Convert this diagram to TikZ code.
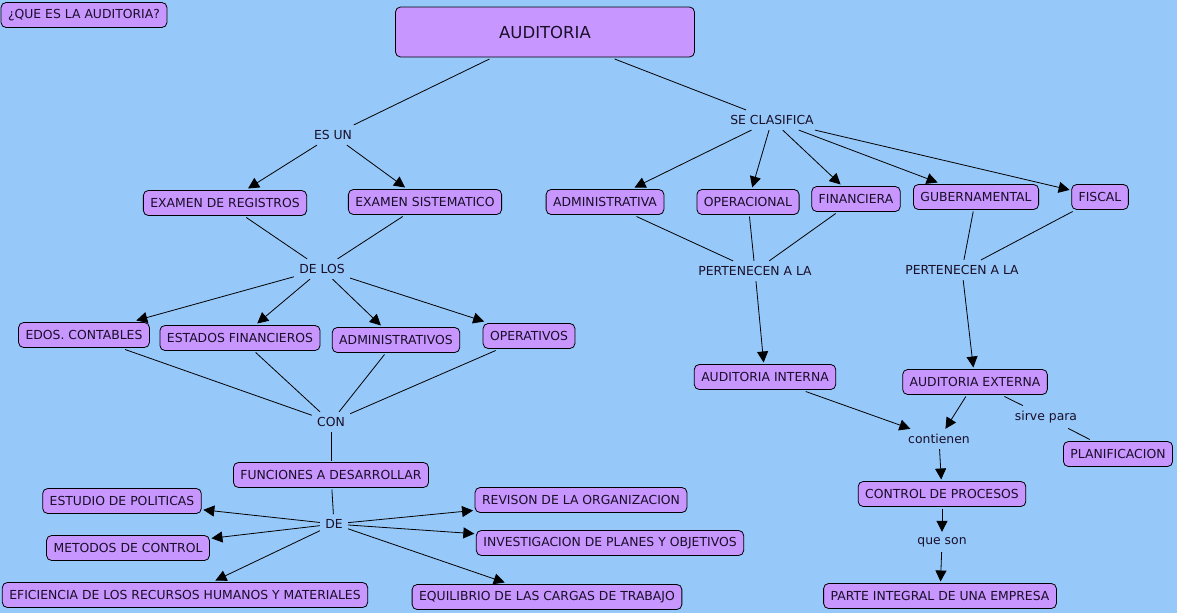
\documentclass[tikz,border=0pt]{standalone}
\usepackage{fontspec}
\setmainfont{DejaVu Sans}
\usetikzlibrary{arrows.meta}
\definecolor{fondo}{RGB}{150,200,250}
\definecolor{lila}{RGB}{200,150,255}
\definecolor{tinta}{RGB}{25,15,40}
\tikzset{
  concepto/.style={draw=black, fill=lila, rounded corners=5pt, inner xsep=7pt, inner ysep=0pt,
    minimum height=25pt, outer sep=2pt, text=tinta, font=\fontsize{12.4}{14}\selectfont},
  enlace/.style={inner sep=5pt, text=tinta, font=\fontsize{12.4}{14}\selectfont},
  flecha/.style={-{Triangle[length=11pt,width=11pt]}},
}
\begin{document}
\begin{tikzpicture}[x=1pt,y=-1pt,line width=0.8pt]
\fill[fondo] (0,0) rectangle (1177,613);
\useasboundingbox (0,0) rectangle (1177,613);

\node[concepto] (que) at (84,15) {¿QUE ES LA AUDITORIA?};
\node[concepto, minimum width=299pt, minimum height=50pt, font=\fontsize{16.5}{18}\selectfont] (aud) at (545,32) {AUDITORIA};

\node[enlace] (esun) at (333,135) {ES UN};
\node[enlace] (secla) at (772,120) {SE CLASIFICA};

\node[concepto] (exreg) at (225,203) {EXAMEN DE REGISTROS};
\node[concepto] (exsis) at (425,202) {EXAMEN SISTEMATICO};
\node[concepto] (admva) at (605,202) {ADMINISTRATIVA};
\node[concepto] (oper) at (748,202) {OPERACIONAL};
\node[concepto] (fin) at (856,199) {FINANCIERA};
\node[concepto] (gub) at (976,197) {GUBERNAMENTAL};
\node[concepto] (fis) at (1100,197) {FISCAL};

\node[enlace] (delos) at (322,269) {DE LOS};
\node[enlace] (pert1) at (755,271) {PERTENECEN A LA};
\node[enlace] (pert2) at (962,270) {PERTENECEN A LA};

\node[concepto] (edos) at (84,335) {EDOS. CONTABLES};
\node[concepto] (estfin) at (240,338) {ESTADOS FINANCIEROS};
\node[concepto] (admvos) at (396,340) {ADMINISTRATIVOS};
\node[concepto] (operat) at (529,336) {OPERATIVOS};
\node[concepto] (audint) at (765,377) {AUDITORIA INTERNA};
\node[concepto] (audext) at (975,382) {AUDITORIA EXTERNA};

\node[enlace] (con) at (331,422) {CON};
\node[enlace] (cont) at (939,439) {contienen};
\node[enlace] (sirve) at (1046,417) {sirve para};
\node[concepto] (plan) at (1118,454) {PLANIFICACION};

\node[concepto] (func) at (331,475) {FUNCIONES A DESARROLLAR};
\node[concepto] (ctl) at (942,494) {CONTROL DE PROCESOS};
\node[enlace] (de) at (334,524) {DE};
\node[enlace] (queson) at (942,542) {que son};

\node[concepto] (estpol) at (122,501) {ESTUDIO DE POLITICAS};
\node[concepto] (metctl) at (128,548) {METODOS DE CONTROL};
\node[concepto] (efic) at (185,595) {EFICIENCIA DE LOS RECURSOS HUMANOS Y MATERIALES};
\node[concepto] (revorg) at (581,500) {REVISON DE LA ORGANIZACION};
\node[concepto] (invest) at (610,543) {INVESTIGACION DE PLANES Y OBJETIVOS};
\node[concepto] (equil) at (547,597) {EQUILIBRIO DE LAS CARGAS DE TRABAJO};
\node[concepto] (parte) at (940,596) {PARTE INTEGRAL DE UNA EMPRESA};

\draw (aud) -- (esun);
\draw[flecha] (esun) -- (exreg);
\draw[flecha] (esun) -- (exsis);
\draw (aud) -- (secla);
\foreach \n in {admva,oper,fin,gub,fis}
  \draw[flecha] (secla) -- (\n);

\draw (exreg) -- (delos);
\draw (exsis) -- (delos);
\foreach \n in {edos,estfin,admvos,operat}
  \draw[flecha] (delos) -- (\n);
\foreach \n in {edos,estfin,admvos,operat}
  \draw (\n) -- (con);
\draw (con) -- (func);
\draw (func) -- (de);
\foreach \n in {estpol,metctl,efic,revorg,invest,equil}
  \draw[flecha] (de) -- (\n);

\foreach \n in {admva,oper,fin}
  \draw (\n) -- (pert1);
\draw[flecha] (pert1) -- (audint);
\draw (gub) -- (pert2);
\draw (fis) -- (pert2);
\draw[flecha] (pert2) -- (audext);

\draw[flecha] (audint) -- (cont);
\draw[flecha] (audext) -- (cont);
\draw[flecha] (cont) -- (ctl);
\draw[flecha] (ctl) -- (queson);
\draw[flecha] (queson) -- (parte);
\draw (audext) -- (sirve) -- (plan);

\end{tikzpicture}
\end{document}
